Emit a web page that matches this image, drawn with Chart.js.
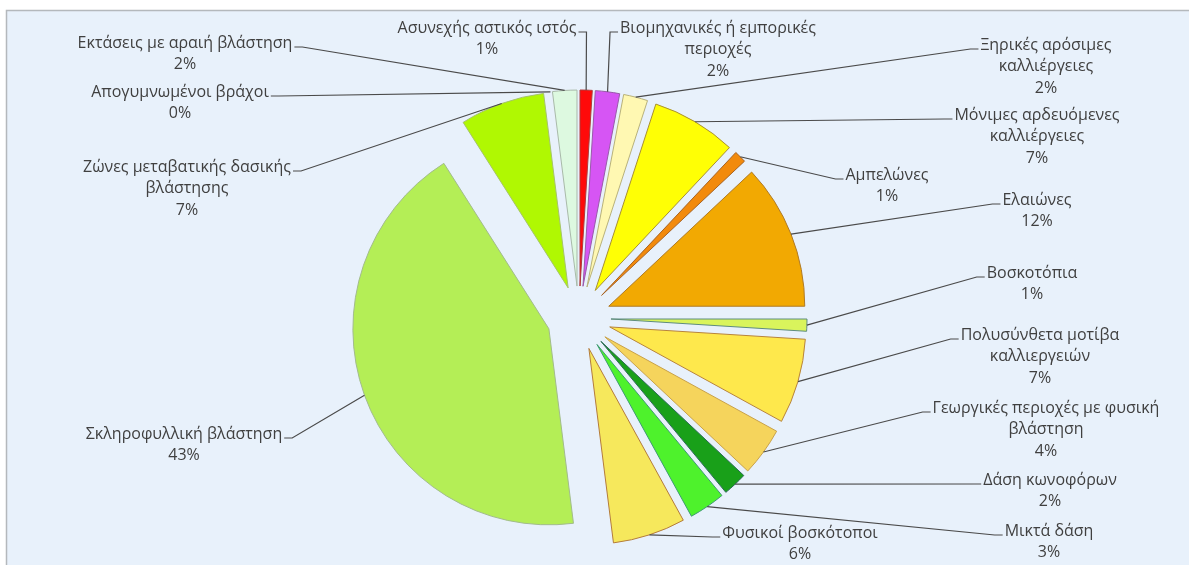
<!DOCTYPE html>
<html lang="el">
<head>
<meta charset="utf-8">
<title>Κάλυψη γης</title>
<script src="https://cdn.jsdelivr.net/npm/chart.js@4.4.1/dist/chart.umd.min.js"></script>
<style>
  html, body { margin: 0; padding: 0; background: #ffffff; }
  canvas { display: block; }
</style>
</head>
<body>
<canvas id="pie" width="1189" height="565"></canvas>
<script>
// Land-cover categories, clockwise from 12 o'clock
const categories = [
  'Ασυνεχής αστικός ιστός',
  ['Βιομηχανικές ή εμπορικές', 'περιοχές'],
  ['Ξηρικές αρόσιμες', 'καλλιέργειες'],
  ['Μόνιμες αρδευόμενες', 'καλλιέργειες'],
  'Αμπελώνες',
  'Ελαιώνες',
  'Βοσκοτόπια',
  ['Πολυσύνθετα μοτίβα', 'καλλιεργειών'],
  ['Γεωργικές περιοχές με φυσική', 'βλάστηση'],
  'Δάση κωνοφόρων',
  'Μικτά δάση',
  'Φυσικοί βοσκότοποι',
  'Σκληροφυλλική βλάστηση',
  ['Ζώνες μεταβατικής δασικής', 'βλάστησης'],
  'Απογυμνωμένοι βράχοι',
  'Εκτάσεις με αραιή βλάστηση'
];

// Share of total area (%)
const shares = [1, 2, 2, 7, 1, 12, 1, 7, 4, 2, 3, 6, 43, 7, 0, 2];

const fillColors = [
  '#ff0a0a', '#d655f4', '#fff8b2', '#ffff05', '#f28a0c', '#f2a902',
  '#d9f45c', '#fee84c', '#f5d45c', '#19a019', '#4ef22c', '#f6e85c',
  '#b4ee56', '#b0f802', '#cfcfcf', '#ddf9e0'
];

const edgeColors = [
  '#b03a3a', '#9a5aaa', '#b9b27a', '#a89034', '#a86424', '#b07a24',
  '#5e8c7e', '#b8843c', '#c9a24a', '#2c6c56', '#3e9c70', '#b47c3c',
  '#a2bc8c', '#a6c46a', '#999999', '#a9baa9'
];

// Callout placement: [text centre x, first-line centre y, end where the leader meets the text]
const labelSpots = [
  [487, 28, 'right'],
  [718, 28, 'left'],
  [1046, 45, 'left'],
  [1037, 115, 'left'],
  [887, 175, 'left'],
  [1037, 200, 'left'],
  [1032, 273, 'left'],
  [1040, 335, 'left'],
  [1046, 408, 'left'],
  [1050, 480, 'left'],
  [1049, 531, 'left'],
  [800, 533, 'left'],
  [184, 434, 'right'],
  [187, 167, 'right'],
  [180, 92, 'right'],
  [185, 43, 'right']
];

// Light-blue plot panel with a thin grey frame on the top and left
const framePanel = {
  id: 'framePanel',
  beforeDraw(chart, args, opts) {
    const { ctx, width, height } = chart;
    ctx.save();
    ctx.fillStyle = '#ffffff';
    ctx.fillRect(0, 0, width, height);
    ctx.fillStyle = opts.fill;
    ctx.fillRect(7, 11, width - 7, height - 11);
    ctx.strokeStyle = opts.line;
    ctx.lineWidth = 1.5;
    ctx.beginPath();
    ctx.moveTo(6.5, height);
    ctx.lineTo(6.5, 10.5);
    ctx.lineTo(width, 10.5);
    ctx.stroke();
    ctx.restore();
  }
};

// Pull every slice out from the centre along its mid angle
const explodeSlices = {
  id: 'explodeSlices',
  afterDatasetsUpdate(chart, args, opts) {
    chart.getDatasetMeta(0).data.forEach(arc => {
      const mid = (arc.startAngle + arc.endAngle) / 2;
      arc.x += Math.cos(mid) * opts.distance;
      arc.y += Math.sin(mid) * opts.distance;
    });
  }
};

// Category name + percentage with a leader line back to the slice rim
const calloutLabels = {
  id: 'calloutLabels',
  afterDatasetsDraw(chart, args, opts) {
    const ctx = chart.ctx;
    const arcs = chart.getDatasetMeta(0).data;
    const total = shares.reduce((a, b) => a + b, 0);
    ctx.save();
    ctx.font = opts.font;
    ctx.textAlign = 'center';
    ctx.textBaseline = 'middle';
    arcs.forEach((arc, i) => {
      const lines = [].concat(categories[i], Math.round(shares[i] / total * 100) + '%');
      const [cx, cy, side] = labelSpots[i];
      const w = ctx.measureText(lines[0]).width;
      const edgeX = side === 'left' ? cx - w / 2 - 2 : cx + w / 2 + 2;
      const kneeX = side === 'left' ? edgeX - 8 : edgeX + 8;
      const ly = cy + 4;
      const mid = (arc.startAngle + arc.endAngle) / 2;
      const px = arc.x + Math.cos(mid) * arc.outerRadius;
      const py = arc.y + Math.sin(mid) * arc.outerRadius;
      ctx.strokeStyle = opts.lineColor;
      ctx.lineWidth = 1.2;
      ctx.beginPath();
      ctx.moveTo(px, py);
      ctx.lineTo(kneeX, ly);
      ctx.lineTo(edgeX, ly);
      ctx.stroke();
      ctx.fillStyle = opts.color;
      lines.forEach((t, k) => ctx.fillText(t, cx, cy + k * opts.lineHeight));
    });
    ctx.restore();
  }
};

new Chart(document.getElementById('pie'), {
  type: 'pie',
  data: {
    labels: categories,
    datasets: [{
      data: shares,
      backgroundColor: fillColors,
      borderColor: edgeColors,
      borderWidth: 1,
      radius: 196
    }]
  },
  options: {
    responsive: false,
    animation: false,
    layout: { padding: { left: 300, right: 331, top: 100, bottom: 29 } },
    plugins: {
      legend: { display: false },
      tooltip: { enabled: false },
      framePanel: { fill: '#e8f1fb', line: '#b4b8bc' },
      explodeSlices: { distance: 32 },
      calloutLabels: {
        font: '16px "Open Sans", "Noto Sans", sans-serif',
        color: '#404040',
        lineColor: '#4a4a4a',
        lineHeight: 21.5
      }
    }
  },
  plugins: [framePanel, explodeSlices, calloutLabels]
});
</script>
</body>
</html>
